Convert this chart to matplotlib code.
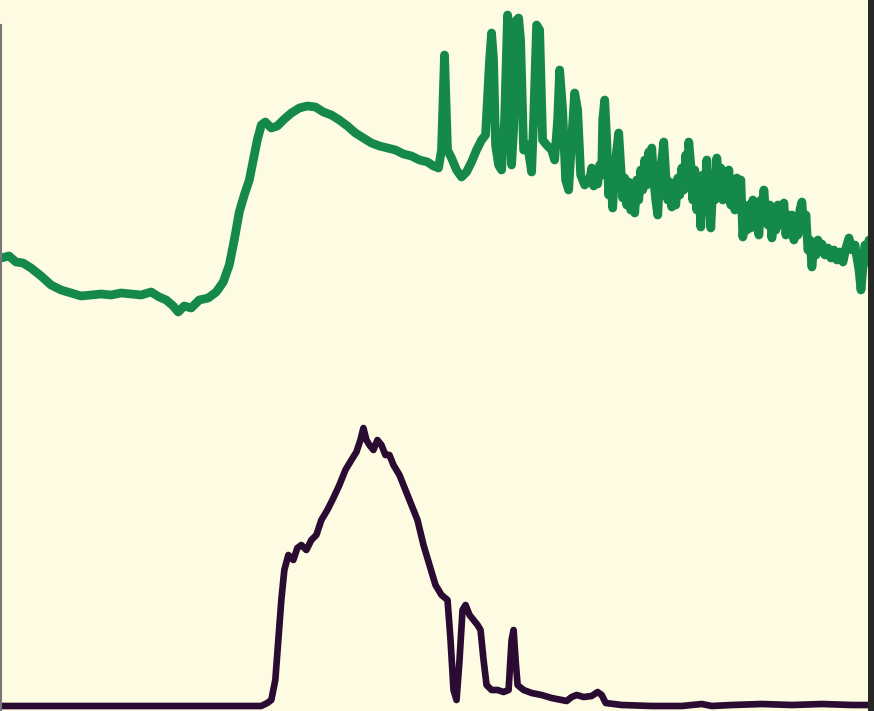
import matplotlib
matplotlib.use('Agg')
import matplotlib.pyplot as plt

# Green spectrum (upper trace) - position vs. signal height
green_x = [0, 8, 15, 22, 30, 40, 50, 60, 70, 80, 90, 100, 110, 120, 130, 140, 150, 158, 165, 172,
           177, 183, 190, 198, 207, 215, 222, 228, 233, 238, 243, 248, 252, 256, 260, 264, 270, 276,
           282, 290, 298, 306, 314, 322, 330, 338, 346, 354, 362, 370, 378, 386, 394, 402, 410, 418,
           426, 432, 437, 440, 443, 446, 450, 455, 460, 465, 470, 475, 480, 484, 488, 490, 492, 494,
           497, 500, 503, 506, 508, 510, 512, 515, 517, 519, 522, 526, 530, 532, 535, 538, 541, 545,
           550, 553, 556, 558, 561, 564, 567, 570, 573, 576, 579, 583,
           588, 590, 592, 594, 596, 598, 600, 601, 603, 605, 607, 609, 611, 613, 615, 617, 619, 621,
           623, 625, 627, 629, 631, 633, 635, 637, 639, 641, 643, 645, 647, 649, 650, 652, 654, 656,
           658, 660, 662, 664, 666, 668, 670, 672, 674, 676, 678, 680, 682, 684, 686, 687, 689, 691,
           693, 695, 697, 699, 701, 703, 705, 707, 709, 711, 713, 715, 717, 719, 721, 723, 725, 727,
           729, 731, 733, 735, 737, 739, 741, 743, 745, 747, 749, 751, 753, 755, 757, 759, 761, 762,
           764, 766, 768, 770, 772, 774, 776, 778, 780, 782, 784, 786, 788, 790, 792, 794, 796, 798,
           800, 802, 804, 806, 808, 810, 812, 814, 816, 818, 820, 823, 826, 829, 832, 835, 838, 841,
           844, 847, 850, 853, 855, 857, 859, 861, 863, 865, 867]
green_y = [448, 450, 444, 443, 438, 430, 421, 416, 413, 410, 411, 412, 411, 413, 412, 411, 414, 409, 406, 400,
           394, 400, 398, 406, 408, 414, 424, 441, 466, 494, 511, 526, 546, 566, 581, 584, 578, 580,
           586, 593, 598, 600, 599, 594, 591, 586, 580, 573, 568, 563, 560, 558, 556, 552, 550, 546,
           544, 540, 538, 556, 651, 556, 548, 536, 529, 534, 544, 556, 566, 571, 646, 673, 646, 561,
           541, 536, 586, 691, 676, 541, 576, 686, 688, 666, 556, 561, 534, 586, 681, 676, 566, 561,
           556, 546, 586, 636, 596, 526, 516, 566, 613, 596, 531, 521,
           526, 538, 520, 536, 522, 541, 531, 586, 606, 566, 511, 531, 498, 536, 556, 573, 541, 508,
           528, 501, 524, 496, 521, 493, 526, 506, 536, 516, 546, 521, 554, 531, 558, 526, 506, 491,
           531, 546, 564, 531, 506, 524, 499, 521, 501, 528, 511, 538, 516, 551, 531, 564, 541, 506,
           536, 496, 526, 479, 531, 506, 546, 511, 478, 521, 506, 548, 516, 538, 506, 534, 511, 536,
           501, 526, 496, 528, 506, 526, 469, 491, 476, 501, 478, 506, 486, 501, 471, 506, 496, 516,
           491, 481, 501, 468, 496, 476, 501, 481, 496, 503, 471, 491, 476, 491, 466, 486, 471, 496,
           504, 476, 491, 456, 466, 439, 461, 451, 466, 454, 462, 451, 458, 448, 456, 446, 454, 444,
           458, 468, 456, 461, 448, 436, 416, 438, 461, 444, 466]

# Dark purple spectrum (lower trace)
purple_x = [0, 100, 200, 260, 266, 270, 274, 277, 280, 283, 287, 292, 296, 300, 305, 310, 315, 320, 326,
            332, 338, 344, 350, 355, 359, 362, 365, 368, 372, 376, 380, 384, 388, 392, 398, 404, 410,
            416, 422, 428, 434, 440, 446, 449, 452, 455, 458, 461, 464, 468, 472, 476, 479, 482, 485,
            490, 496, 502, 507, 510, 512, 514, 516, 522, 530, 540, 550, 560, 565, 570, 575, 582, 590,
            596, 600, 604, 620, 650, 680, 700, 710, 730, 760, 790, 820, 850, 868]
purple_y = [0, 0, 0, 0, 3, 6, 26, 66, 106, 136, 151, 146, 158, 161, 156, 166, 171, 186, 196,
            208, 221, 236, 246, 254, 266, 278, 266, 261, 256, 266, 261, 251, 251, 241, 231, 216, 201,
            186, 161, 141, 121, 111, 106, 66, 16, 6, 46, 96, 101, 91, 86, 81, 76, 46, 21,
            16, 16, 14, 16, 66, 76, 46, 21, 16, 13, 11, 8, 6, 5, 9, 11, 9, 10,
            14, 11, 3, 1, 0, 0, 2, 0, 1, 2, 1, 2, 1, 1]

fig = plt.figure(figsize=(8.74, 7.11), dpi=100)
fig.patch.set_facecolor('#fdfbe2')
ax = fig.add_axes([1 / 874, 0, 869.5 / 874, 1])
ax.set_facecolor('#fdfbe2')

ax.plot(green_x, green_y, color='#15894a', linewidth=6.3, solid_joinstyle='round', solid_capstyle='round')
ax.plot(purple_x, purple_y, color='#2a0b32', linewidth=4.8, solid_joinstyle='round', solid_capstyle='round')

ax.set_xlim(0, 868.5)
ax.set_ylim(-5, 706)
ax.set_xticks([])
ax.set_yticks([])

ax.spines['top'].set_visible(False)
ax.spines['bottom'].set_visible(False)
ax.spines['left'].set_color('#777777')
ax.spines['left'].set_linewidth(1.5)
ax.spines['left'].set_bounds(-5, 681)
ax.spines['right'].set_color('#262626')
ax.spines['right'].set_linewidth(5)

plt.savefig('out.png', dpi=100, facecolor=fig.get_facecolor())
